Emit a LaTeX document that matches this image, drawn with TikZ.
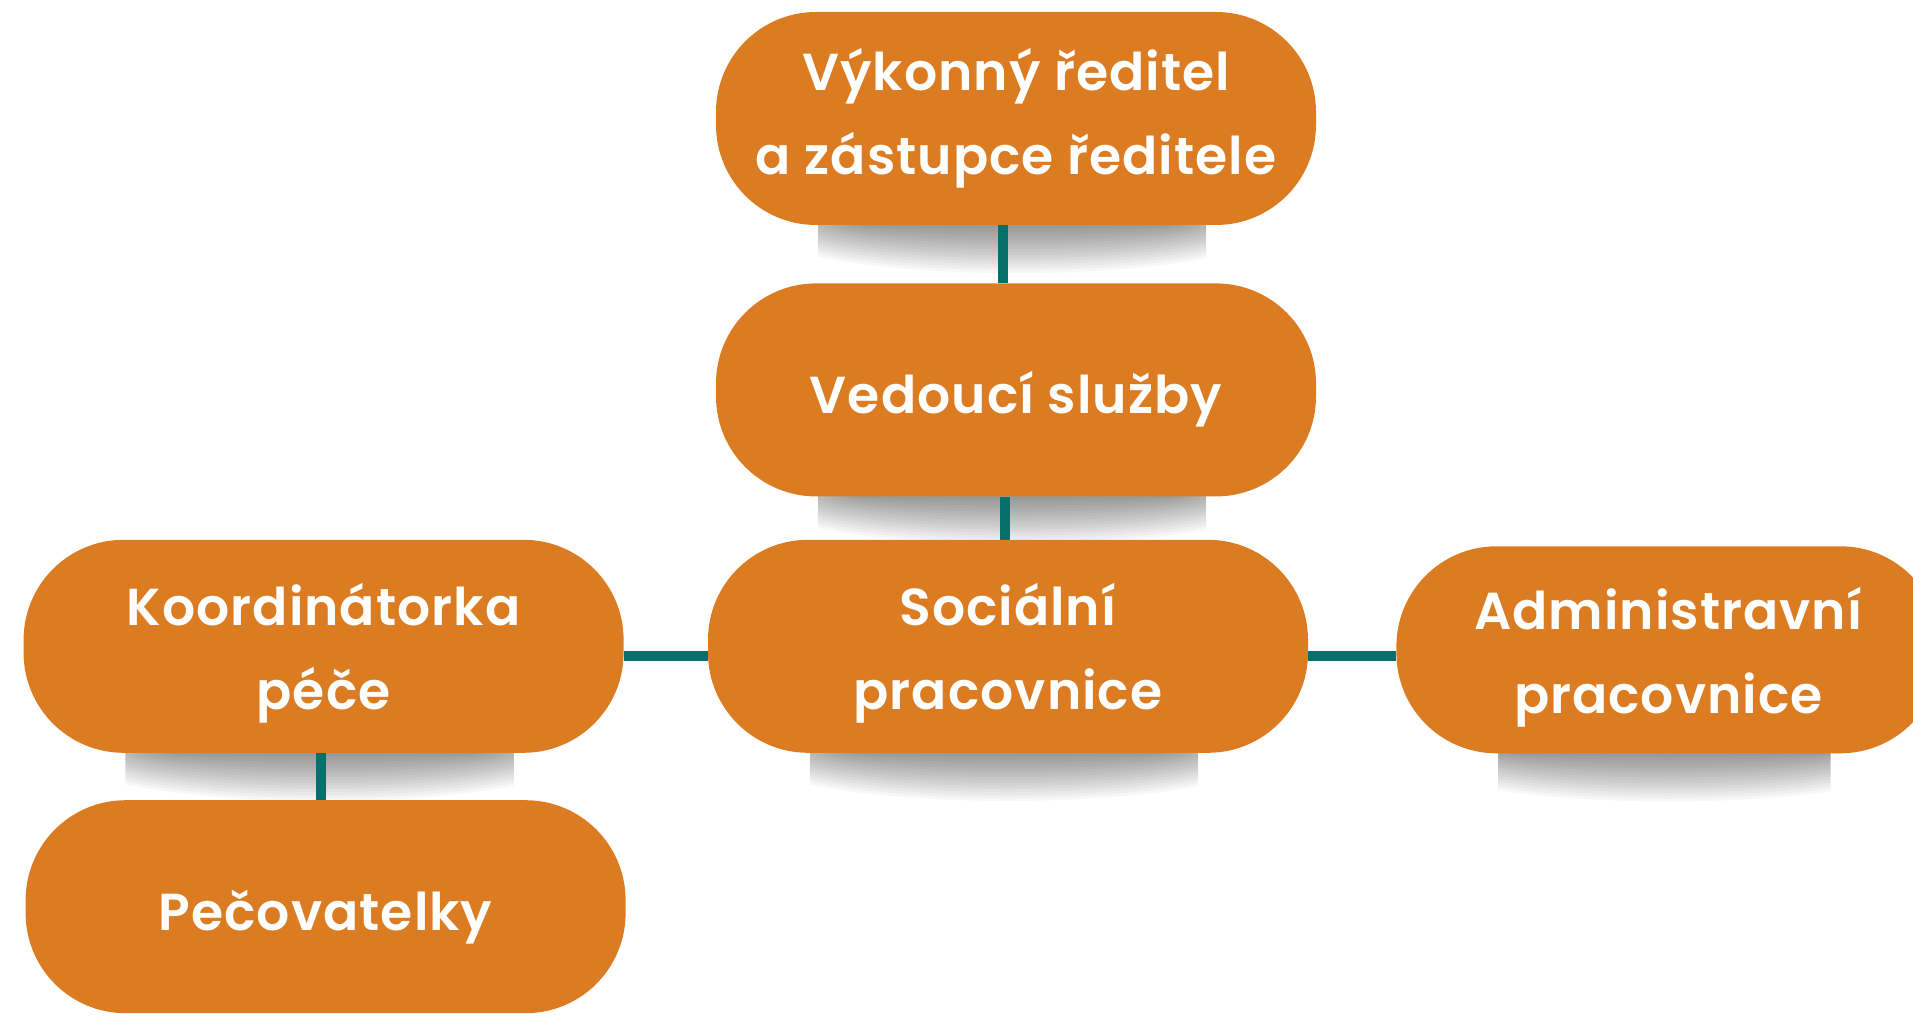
\documentclass[tikz,border=0pt]{standalone}
\usepackage{fontspec}
\setmainfont{Poppins}[BoldFont={Poppins SemiBold},BoldFeatures={LetterSpace=2}]
\usetikzlibrary{positioning,backgrounds}
\definecolor{carrot}{HTML}{DC7C22}
\definecolor{pine}{HTML}{08706A}
\tikzset{
  orgbox/.style={
    fill=carrot,
    rounded corners=100pt,
    minimum width=600pt,
    minimum height=213pt,
    inner sep=0pt,
    align=center,
    text=white,
    font=\fontsize{52}{84}\selectfont\bfseries,
    execute at begin node={\rule{0pt}{62pt}},
    execute at end node={\rule[-14pt]{0pt}{0pt}}
  },
  lowtext/.style={execute at begin node={\rule{0pt}{141pt}}},
  orgline/.style={draw=pine,line width=10pt},
  boxshadow/.style={fill=black,opacity=0.03}
}

\begin{document}
\begin{tikzpicture}[x=1pt,y=-1pt,node distance=58pt]
\useasboundingbox (0,0) rectangle (1913,1016);
\node[orgbox] (exec) at (1016,118.5) {Výkonný ředitel\\a zástupce ředitele};
\node[orgbox,below=of exec] (head) {Vedoucí služby};
\node[orgbox,lowtext,below=43pt of head,xshift=-8pt] (social) {Sociální\\pracovnice};
\node[orgbox,lowtext,left=84pt of social] (coord) {Koordinátorka\\péče};
\node[orgbox,below=47pt of coord,xshift=2pt] (care) {Pečovatelky};
\node[orgbox,lowtext,right=88pt of social,minimum width=544pt,minimum height=207pt,yshift=-3.5pt] (admin) {Administravní\\pracovnice};
\begin{scope}[on background layer]
\foreach \n in {exec,head,social,coord,admin}{
  \begin{scope}
    \clip ([xshift=102pt]\n.south west) rectangle ([xshift=-110pt,yshift=-50pt]\n.south east);
    \foreach \k in {1,...,16}
      \fill[boxshadow] (\n.south) ellipse [x radius=150+7*\k, y radius=3*\k];
  \end{scope}
}
\draw[orgline] ([xshift=-13pt]exec.south) -- ([xshift=-13pt]head.north);
\draw[orgline] ([xshift=-11pt]head.south) -- ([xshift=-3pt]social.north);
\draw[orgline] ([xshift=-3pt]coord.south) -- ([xshift=-5pt]care.north);
\draw[orgline] ([yshift=-10pt]coord.east) -- ([yshift=-10pt]social.west);
\draw[orgline] ([yshift=-10pt]social.east) -- ([yshift=-6.5pt]admin.west);
\end{scope}
\end{tikzpicture}
\end{document}
